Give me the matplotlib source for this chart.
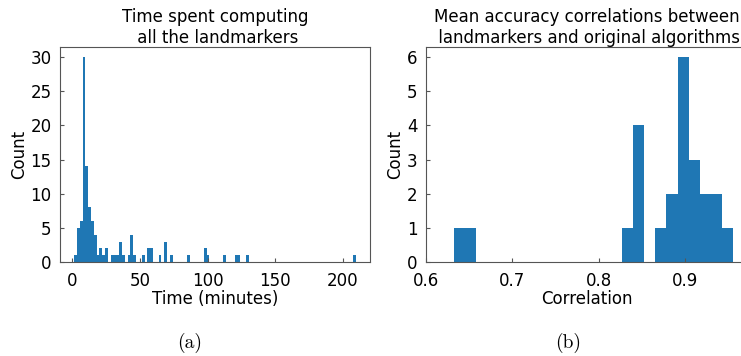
import matplotlib

matplotlib.use("Agg")
import matplotlib.pyplot as plt

# left panel: occupied bins of the time histogram (bin centre in minutes, count)
time_bin_centers = [2.2, 4.3, 6.4, 8.5, 10.6, 12.7, 14.8, 16.8, 18.9, 21.0, 23.1, 25.2,
                    29.3, 31.4, 33.5, 35.6, 37.7, 41.9, 43.9, 46.0, 52.3, 56.4, 58.5,
                    64.8, 68.9, 73.1, 85.6, 98.1, 100.2, 112.7, 121.1, 123.2, 129.4, 208.7]
time_counts = [1, 5, 6, 30, 14, 8, 6, 4, 1, 2, 1, 2,
               1, 1, 1, 3, 1, 1, 4, 1, 1, 2, 2,
               1, 3, 1, 1, 2, 1, 1, 1, 1, 1, 1]
time_range = (1.2, 209.7)
time_bins = 100
time_yticks = [0, 5, 10, 15, 20, 25, 30]

# right panel: occupied bins of the correlation histogram
corr_bin_centers = [0.639, 0.652, 0.833, 0.846, 0.872, 0.885, 0.898, 0.911, 0.924, 0.937, 0.950]
corr_counts = [1, 1, 1, 4, 1, 2, 6, 3, 2, 2, 1]
corr_range = (0.6325, 0.9562)
corr_bins = 25
corr_xticks = [0.6, 0.7, 0.8, 0.9]
corr_yticks = [0, 1, 2, 3, 4, 5, 6]

BLUE = "#1f77b4"
SPINE = "#555555"
FS = 12


def style(ax):
    for sp in ax.spines.values():
        sp.set_color(SPINE)
    ax.tick_params(direction="in", color=SPINE, labelsize=FS, length=3)
    ax.tick_params(axis="x", pad=7)
    ax.tick_params(axis="y", pad=6)


fig = plt.figure(figsize=(7.41, 3.56), dpi=100)

ax1 = fig.add_axes([60 / 741, 94 / 356, 310 / 741, 215 / 356])
ax1.hist(time_bin_centers, bins=time_bins, range=time_range, weights=time_counts, color=BLUE)
ax1.set_yticks(time_yticks)
ax1.set_title("Time spent computing\n all the landmarkers", fontsize=FS, pad=2)
ax1.set_xlabel("Time (minutes)", fontsize=FS, labelpad=0)
ax1.set_ylabel("Count", fontsize=FS, labelpad=2)
style(ax1)

ax2 = fig.add_axes([426 / 741, 94 / 356, 321 / 741, 215 / 356])
ax2.hist(corr_bin_centers, bins=corr_bins, range=corr_range, weights=corr_counts, color=BLUE)
ax2.set_xlim(0.6, 0.972)
ax2.set_xticks(corr_xticks)
ax2.set_yticks(corr_yticks)
ax2.set_title("Mean accuracy correlations between\n landmarkers and original algorithms",
              fontsize=FS, pad=2)
ax2.set_xlabel("Correlation", fontsize=FS, labelpad=0)
ax2.set_ylabel("Count", fontsize=FS, labelpad=2)
style(ax2)

fig.text(190 / 741, 1 - 343 / 356, "(a)", family="cmr10", fontsize=14, ha="center", va="center")
fig.text(568 / 741, 1 - 343 / 356, "(b)", family="cmr10", fontsize=14, ha="center", va="center")

fig.savefig("out.png", dpi=100)
